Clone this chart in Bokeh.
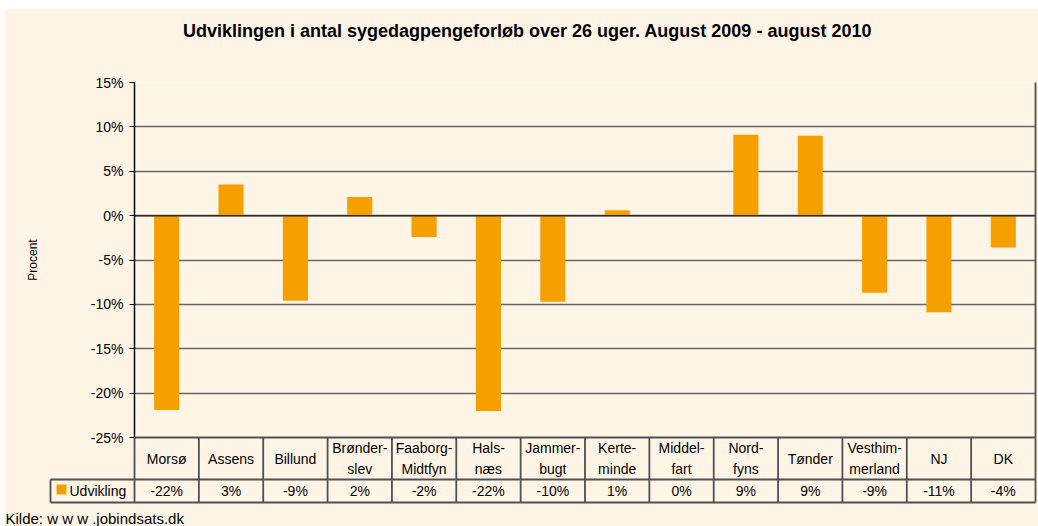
from bokeh.plotting import figure
from bokeh.models import Range1d, FixedTicker, PrintfTickFormatter, Span
from bokeh.core.properties import value
from bokeh.embed import file_html
from bokeh.resources import INLINE

# ---- data ----
categories = ["Morsø", "Assens", "Billund", "Brønder-\nslev", "Faaborg-\nMidtfyn",
              "Hals-\nnæs", "Jammer-\nbugt", "Kerte-\nminde", "Middel-\nfart",
              "Nord-\nfyns", "Tønder", "Vesthim-\nmerland", "NJ", "DK"]
values = [-21.9, 3.5, -9.6, 2.1, -2.4, -22.0, -9.7, 0.6, 0.0, 9.1, 9.0, -8.7, -10.9, -3.6]
value_labels = ["-22%", "3%", "-9%", "2%", "-2%", "-22%", "-10%", "1%", "0%",
                "9%", "9%", "-9%", "-11%", "-4%"]
y_ticks = [-25, -20, -15, -10, -5, 0, 5, 10, 15]
series_name = "Udvikling"
title_text = "Udviklingen i antal sygedagpengeforløb over 26 uger. August 2009 - august 2010"
source_text = "Kilde: w w w .jobindsats.dk"

# ---- layout / style ----
BG = "#FEF5E7"
BAR = "#F5A000"
LINE = "#505050"
FONT = "Liberation Sans"
W, H = 1038, 526
F_LEFT, F_RIGHT, F_TOP, F_BOTTOM = 134, 1035, 82, 437   # plot-area edges in pixels
n = len(categories)
xs = list(range(n))
cw = (F_RIGHT - F_LEFT) / n
ppu = (F_BOTTOM - F_TOP) / (y_ticks[-1] - y_ticks[0])


def xpx(px):
    return -0.5 + (px - F_LEFT) / cw


def ypx(py):
    return y_ticks[0] - (py - F_BOTTOM) / ppu


p = figure(width=W, height=H, output_backend="svg", toolbar_location=None,
           x_range=Range1d(-0.5, n - 0.5), y_range=Range1d(y_ticks[0], y_ticks[-1]),
           x_axis_location=None, min_border_left=F_LEFT, min_border_right=W - F_RIGHT,
           min_border_top=F_TOP, min_border_bottom=H - F_BOTTOM)
p.background_fill_color = BG
p.border_fill_color = BG
p.outline_line_color = None

p.xgrid.visible = False
p.ygrid.ticker = FixedTicker(ticks=y_ticks)
p.ygrid.grid_line_color = "#666666"
p.ygrid.grid_line_width = 1.5

ax = p.yaxis[0]
ax.ticker = FixedTicker(ticks=y_ticks)
ax.formatter = PrintfTickFormatter(format="%d%%")
ax.major_label_text_font = FONT
ax.major_label_text_font_size = "14px"
ax.major_label_text_color = "#000000"
ax.major_label_standoff = 6
ax.major_tick_out = 5
ax.major_tick_in = 0
ax.minor_tick_line_color = None
ax.axis_line_color = "#000000"
ax.axis_line_width = 1.5
ax.major_tick_line_color = "#000000"
ax.axis_label = "Procent"
ax.axis_label_text_font = FONT
ax.axis_label_text_font_size = "12px"
ax.axis_label_text_font_style = "normal"
ax.axis_label_text_color = "#000000"
ax.axis_label_standoff = 48

p.vbar(x=xs, top=values, bottom=0, width=0.39, fill_color=BAR, line_color=None)
p.add_layout(Span(location=0, dimension="width", line_color="#2b2b2b", line_width=1.5))

# white page strip at the top and left edge of the picture
p.quad(left=[xpx(0), xpx(0)], right=[xpx(W), xpx(4)], top=[ypx(0), ypx(0)],
       bottom=[ypx(8), ypx(H)], fill_color="white", line_color=None, level="overlay")

# title
p.text(x=[xpx(527)], y=[ypx(30)], text=[title_text], text_align="center",
       text_baseline="middle", text_font=value(FONT), text_font_style="bold",
       text_font_size="18px", text_color="#000000", level="overlay")

# ---- data table below the plot area ----
y_top, y_mid, y_bot = ypx(F_BOTTOM), ypx(479), ypx(502)
leg_left = xpx(50)
sx0, sy0, sx1, sy1 = [], [], [], []
for i in range(n + 1):
    sx0.append(i - 0.5); sx1.append(i - 0.5)
    sy0.append(y_bot); sy1.append(y_top)
sx0 += [leg_left, leg_left, leg_left, -0.5, n - 0.5]
sx1 += [leg_left, n - 0.5, n - 0.5, n - 0.5, n - 0.5]
sy0 += [y_bot, y_bot, y_mid, y_top, y_top]
sy1 += [y_mid, y_bot, y_mid, y_top, y_ticks[-1]]
p.segment(x0=sx0, y0=sy0, x1=sx1, y1=sy1, line_color=LINE, line_width=1.8, level="overlay")

p.text(x=xs, y=[(y_top + y_mid) / 2] * n, text=categories,
       text_align="center", text_baseline="middle", text_font=value(FONT),
       text_font_size="14px", text_line_height=1.35, text_color="#000000", level="overlay")
p.text(x=xs, y=[(y_mid + y_bot) / 2] * n, text=value_labels,
       text_align="center", text_baseline="middle", text_font=value(FONT),
       text_font_size="14px", text_color="#000000", level="overlay")
# legend key
p.quad(left=[xpx(56)], right=[xpx(66)], top=[ypx(484)], bottom=[ypx(494)],
       fill_color=BAR, line_color=None, level="overlay")
p.text(x=[xpx(69)], y=[(y_mid + y_bot) / 2], text=[series_name],
       text_align="left", text_baseline="middle", text_font=value(FONT),
       text_font_size="14px", text_color="#000000", level="overlay")
p.text(x=[xpx(5)], y=[ypx(518)], text=[source_text], text_align="left", text_baseline="middle",
       text_font=value(FONT), text_font_size="15px", text_color="#000000", level="overlay")

open("out.html", "w").write(file_html(p, INLINE))
